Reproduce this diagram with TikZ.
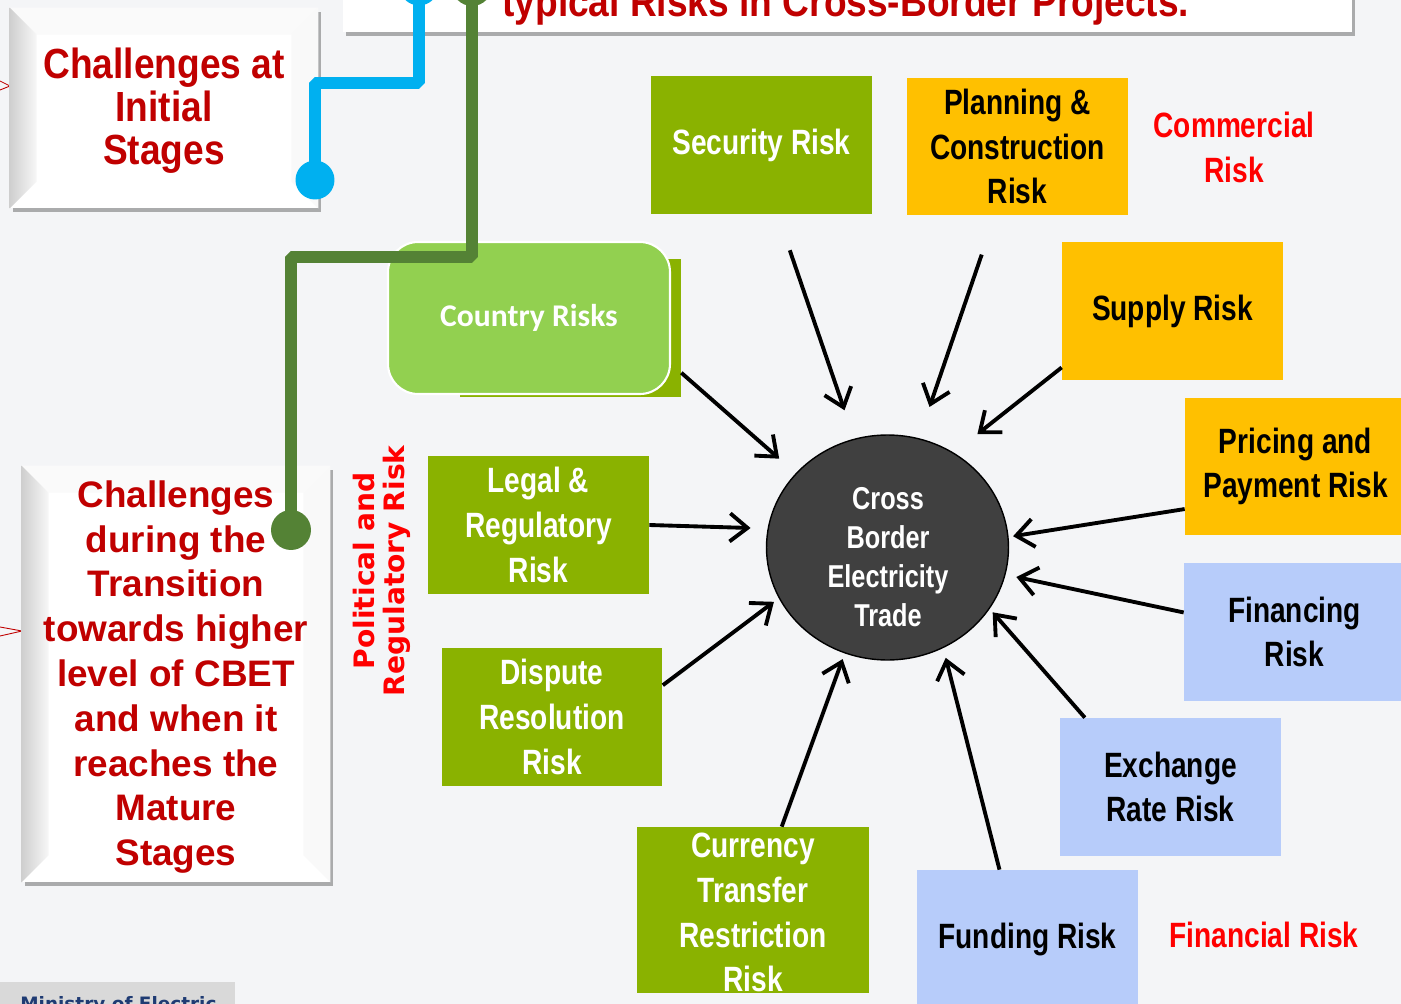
\documentclass[tikz,border=0pt]{standalone}
\usepackage{fontspec}
\setmainfont{Liberation Sans}
\newfontfamily\narrowfont[FakeStretch=0.80]{Liberation Sans}
\newfontfamily\slimfont[FakeStretch=0.88]{Liberation Sans}
\newfontfamily\calfont{Carlito}
\newfontfamily\verdfont{DejaVu Sans}
\usetikzlibrary{shapes.geometric,arrows.meta,shadows,calc}

\definecolor{bggray}{HTML}{F4F5F7}
\definecolor{darkred}{HTML}{C00000}
\definecolor{labelred}{HTML}{FF0000}
\definecolor{riskolive}{HTML}{8AB200}
\definecolor{riskamber}{HTML}{FFC000}
\definecolor{riskblue}{HTML}{B7CCFA}
\definecolor{countrygreen}{HTML}{92D050}
\definecolor{cbetgray}{HTML}{404040}
\definecolor{wireblue}{HTML}{00B0F0}
\definecolor{wiregreen}{HTML}{548235}
\definecolor{ministrygray}{HTML}{D9D9D9}
\definecolor{ministryblue}{HTML}{1F3B73}

\tikzset{
  riskbox/.style={rectangle, minimum width=4.42cm, minimum height=2.76cm, inner sep=0pt, align=center,
    font=\narrowfont\bfseries\fontsize{20}{25.5}\selectfont},
  olivebox/.style={riskbox, fill=riskolive, text=white},
  amberbox/.style={riskbox, fill=riskamber, text=black},
  bluebox/.style={riskbox, fill=riskblue, text=black},
  boxtext/.style={align=center, inner sep=0pt, font=\narrowfont\bfseries\fontsize{20}{25.5}\selectfont},
  grouplabel/.style={boxtext, text=labelred},
  bevelbox/.style={rectangle, fill=white, inner sep=0pt,
    drop shadow={shadow xshift=1.5pt, shadow yshift=-2.5pt, opacity=.3, fill=black}},
  challenge/.style={align=center, inner sep=0pt, text=darkred},
  riskarrow/.style={-{Straight Barb[length=10pt,width=16pt]}, line width=2.2pt, black},
  wire/.style={line width=6.7pt, line join=bevel},
  wiredot/.style={circle, inner sep=0pt, minimum size=0.78cm}
}

\begin{document}
\begin{tikzpicture}[x=0.02cm, y=-0.02cm]
\useasboundingbox (0,0) rectangle (1401,1004);
\fill[bggray] (0,0) rectangle (1401,1004);

\draw[darkred, line width=0.5pt] (0,81) -- (10,86) -- (0,90);
\draw[darkred, line width=0.5pt] (0,627) -- (22,631) -- (0,636);

\node[bevelbox, minimum width=20.18cm, minimum height=1.6cm] (titlebox) at (847.5,-8) {};
\node[anchor=base west, inner sep=0pt, text=darkred, font=\slimfont\bfseries\fontsize{24}{24}\selectfont] (title) at (502,16) {typical Risks in Cross-Border Projects.};

\node[bevelbox, minimum width=6.16cm, minimum height=4cm] (chalinit) at (164,108) {};
\node[bevelbox, minimum width=6.16cm, minimum height=8.32cm] (chaltrans) at (176,674) {};
\foreach \bx in {chalinit,chaltrans} {
  \fill[gray!4] (\bx.north west) -- (\bx.north east) -- ($(\bx.north east)+(-27,27)$) -- ($(\bx.north west)+(27,27)$) -- cycle;
  \shade[left color=gray!38, right color=gray!6] (\bx.north west) -- ($(\bx.north west)+(27,27)$) -- ($(\bx.south west)+(27,-27)$) -- (\bx.south west) -- cycle;
  \fill[gray!5] (\bx.north east) -- (\bx.south east) -- ($(\bx.south east)+(-27,-27)$) -- ($(\bx.north east)+(-27,27)$) -- cycle;
}
\node[challenge, font=\slimfont\bfseries\fontsize{24}{24.5}\selectfont] (chalinittext) at (164,111) {Challenges at\\Initial\\Stages};
\node[challenge, font=\bfseries\fontsize{21}{25.5}\selectfont] (chaltranstext) at (176,677) {Challenges\\during the\\Transition\\towards higher\\level of CBET\\and when it\\reaches the\\Mature\\Stages};

\node[fill=riskolive, minimum width=4.42cm, minimum height=2.76cm] (countryshadow) at (570.5,328) {};
\node[draw=white, line width=1.2pt, fill=countrygreen, rounded corners=0.6cm, minimum width=5.64cm, minimum height=3.04cm,
  text=white, font=\calfont\bfseries\fontsize{18}{18}\selectfont] (country) at (529,318) {Country Risks};

\node[wiredot, fill=wireblue] (bluetop) at (419,-14) {};
\node[wiredot, fill=wireblue] (bluedot) at (315,180) {};
\node[wiredot, fill=wiregreen, minimum size=0.8cm] (greentop) at (472,-14) {};
\node[wiredot, fill=wiregreen, minimum size=0.8cm] (greendot) at (291,530) {};
\draw[wire, wireblue] (bluetop.center) -- ++(0,97) -| (bluedot.center);
\draw[wire, wiregreen] (greentop.center) -- ++(0,271) -| (greendot.center);

\node[olivebox] (security) at (761.5,145) {Security Risk};
\node[amberbox] (planning) at (1017.5,146.5) {Planning \&\\Construction\\Risk};
\node[amberbox] (supply) at (1172.5,311) {Supply Risk};
\node[amberbox] (pricing) at (1295.5,466.5) {Pricing and\\Payment Risk};
\node[bluebox] (financing) at (1294.5,632) {Financing\\Risk};
\node[bluebox] (exchange) at (1170.5,787) {Exchange\\Rate Risk};
\node[bluebox] (funding) at (1027.5,939) {Funding Risk};
\node[olivebox, minimum width=4.64cm, minimum height=3.32cm] (currency) at (753,910) {};
\node[boxtext, text=white] (currencytext) at (753,912.5) {Currency\\Transfer\\Restriction\\Risk};
\node[olivebox] (dispute) at (552,717) {Dispute\\Resolution\\Risk};
\node[olivebox] (legal) at (538.5,525) {Legal \&\\Regulatory\\Risk};

\node[grouplabel] (commercial) at (1234,147.5) {Commercial\\Risk};
\node[grouplabel] (financial) at (1264,935) {Financial Risk};
\node[rotate=90, align=center, inner sep=0pt, text=labelred, font=\verdfont\bfseries\fontsize{16}{17}\selectfont] (political) at (382,571) {Political and\\Regulatory Risk};

\node[ellipse, fill=cbetgray, draw=black, line width=0.8pt, minimum width=4.84cm, minimum height=4.5cm, inner sep=0pt] (cbet) at (887.5,547.5) {};
\node[align=center, inner sep=0pt, text=white, font=\narrowfont\bfseries\fontsize{18}{22.3}\selectfont] (cbettext) at (888,557) {Cross\\Border\\Electricity\\Trade};

\draw[riskarrow, shorten >=0.44cm] (countryshadow.-22) -- (cbet.141);
\draw[riskarrow, shorten <=0.76cm, shorten >=0.60cm] (security.-77) -- (cbet.107);
\draw[riskarrow, shorten <=0.82cm, shorten >=0.66cm] (planning.252) -- (cbet.74.5);
\draw[riskarrow, shorten >=0.60cm] (supply.207) -- (cbet.55);
\draw[riskarrow, shorten >=0.09cm] (pricing.201.5) -- (cbet.5);
\draw[riskarrow, shorten >=0.22cm] (financing.170) -- (cbet.-13);
\draw[riskarrow, shorten >=0.09cm] (exchange.141) -- (cbet.-31);
\draw[riskarrow, shorten >=0.20cm] (funding.112) -- (cbet.-61);
\draw[riskarrow, shorten >=0.12cm] (currency.71) -- (cbet.-112);
\draw[riskarrow, shorten >=0.12cm] (dispute.16) -- (cbet.205);
\draw[riskarrow, shorten >=0.34cm] (legal.0) -- (cbet.171);

\node[fill=ministrygray, minimum width=4.7cm, minimum height=0.56cm, inner sep=0pt] (ministrybox) at (117.5,996) {};
\node[anchor=base west, inner sep=0pt, text=ministryblue, font=\verdfont\bfseries\fontsize{10.5}{10.5}\selectfont] (ministry) at (20,1010) {Ministry of Electric};
\end{tikzpicture}
\end{document}
